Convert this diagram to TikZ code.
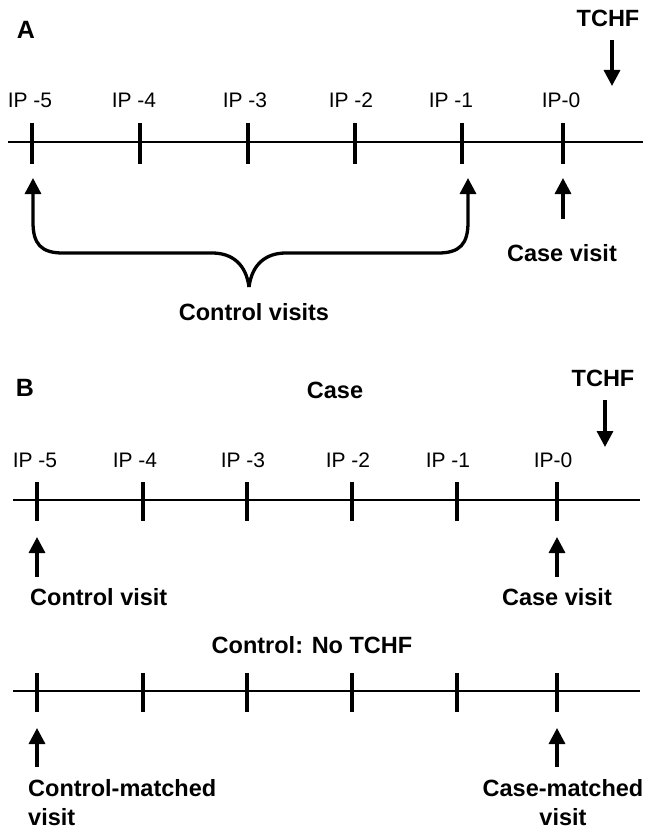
\documentclass[tikz,border=0pt]{standalone}
\usepackage{fontspec}
\setmainfont{Liberation Sans}
\usetikzlibrary{arrows.meta}
\begin{document}
\begin{tikzpicture}[x=1pt,y=-1pt,
  bl/.style={font=\fontsize{23.5}{29}\selectfont\bfseries, inner sep=0pt},
  big/.style={font=\fontsize{25}{29}\selectfont\bfseries, inner sep=0pt},
  ip/.style={font=\fontsize{21}{25}\selectfont, inner sep=0pt},
  tl/.style={line width=2.6pt},
  tk/.style={line width=3.3pt},
  br/.style={line width=3.3pt, line join=round, -{Triangle[length=16pt,width=16pt]}},
  arr/.style={line width=3.3pt, -{Triangle[length=16pt,width=16pt]}},
]
\fill[white] (0,0) rectangle (647,832);
\useasboundingbox (0,0) rectangle (647,832);

% ---------------- Panel A ----------------
\node[big] (labA) at (26,30) {A};
\node[bl] (tchfA) at (608,18) {TCHF};
\coordinate (tchfAs) at (612,40);
\coordinate (tchfAe) at (612,86);
\draw[arr] (tchfAs) -- (tchfAe);

\draw[tl] (8,142) -- (643,142);
\foreach \x in {32,140,248,355,462,563} \draw[tk] (\x,123) -- (\x,164);

\node[ip] (a5) at (30,100) {IP -5};
\node[ip] (a4) at (134,100) {IP -4};
\node[ip] (a3) at (245,100) {IP -3};
\node[ip] (a2) at (351,100) {IP -2};
\node[ip] (a1) at (451,100) {IP -1};
\node[ip] (a0) at (561,100) {IP-0};

% brace
\coordinate (cusp) at (249,287);
\coordinate (bl) at (33,178);
\coordinate (brr) at (468,178);
\draw[br] (cusp) .. controls (246,264) and (232,253) .. (212,253) -- (63,253)
  .. controls (41,253) and (33,244) .. (33,222) -- (bl);
\draw[br] (cusp) .. controls (252,264) and (266,253) .. (286,253) -- (438,253)
  .. controls (460,253) and (468,244) .. (468,222) -- (brr);
\node[bl] (ctlv) at (254,312) {Control visits};

\node[bl] (caseA) at (562,253) {Case visit};
\coordinate (caseAs) at (563,219);
\coordinate (caseAe) at (563,178);
\draw[arr] (caseAs) -- (caseAe);

% ---------------- Panel B ----------------
\node[big] (labB) at (25,388) {B};
\node[bl] (caseT) at (335,390) {Case};
\node[bl] (tchfB) at (603,378) {TCHF};
\coordinate (tchfBs) at (605,400);
\coordinate (tchfBe) at (605,447);
\draw[arr] (tchfBs) -- (tchfBe);

\draw[tl] (13,500) -- (640,500);
\foreach \x in {37,143,247,352,457,557} \draw[tk] (\x,482) -- (\x,521);

\node[ip] (b5) at (35,460) {IP -5};
\node[ip] (b4) at (135,460) {IP -4};
\node[ip] (b3) at (243,460) {IP -3};
\node[ip] (b2) at (348,460) {IP -2};
\node[ip] (b1) at (448,460) {IP -1};
\node[ip] (b0) at (553,460) {IP-0};

\coordinate (cvs) at (37,577);
\coordinate (cve) at (37,537);
\draw[arr] (cvs) -- (cve);
\node[bl, anchor=west] (ctlvB) at (30,597) {Control visit};

\coordinate (csvs) at (557,577);
\coordinate (csve) at (557,537);
\draw[arr] (csvs) -- (csve);
\node[bl] (caseB) at (557,597) {Case visit};

% control timeline
\node[bl] (ctlT) at (312,645) {Control: No TCHF};
\draw[tl] (13,691) -- (640,691);
\foreach \x in {37,143,247,352,457,557} \draw[tk] (\x,673) -- (\x,712);

\coordinate (cms) at (37,767);
\coordinate (cme) at (37,728);
\draw[arr] (cms) -- (cme);
\node[bl, anchor=west, align=left] (cmv) at (28,803) {Control-matched\\visit};

\coordinate (kms) at (557,767);
\coordinate (kme) at (557,728);
\draw[arr] (kms) -- (kme);
\node[bl, align=center] (kmv) at (563,803) {Case-matched\\visit};
\end{tikzpicture}
\end{document}
